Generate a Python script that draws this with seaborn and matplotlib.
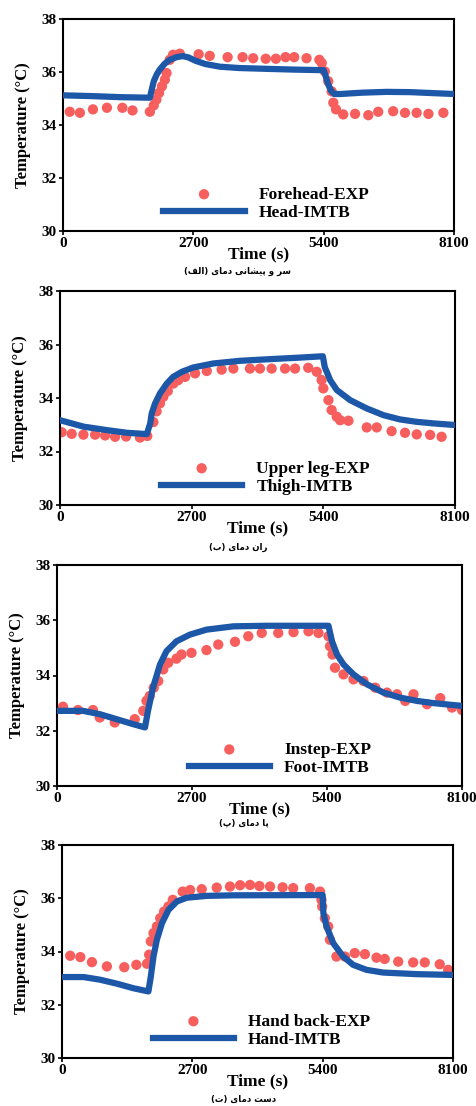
import matplotlib
matplotlib.use('Agg')
import matplotlib.pyplot as plt
import seaborn as sns

# ---- data ----
xticks = [0, 2700, 5400, 8100]
yticks = [30, 32, 34, 36, 38]

# (a) forehead / head
head_exp_t = [140, 350, 620, 910, 1230, 1440, 1800, 1880, 1935, 1990, 2050, 2110, 2145, 2210, 2280,
              2420, 2810, 3040, 3410, 3720, 3940, 4200, 4410, 4610, 4790, 5045, 5310, 5360, 5425,
              5495, 5565, 5600, 5655, 5805, 6050, 6325, 6530, 6840, 7085, 7325, 7570, 7880]
head_exp_T = [34.50, 34.46, 34.59, 34.65, 34.65, 34.55, 34.50, 34.74, 34.96, 35.21, 35.46, 35.71,
              35.96, 36.46, 36.65, 36.69, 36.67, 36.61, 36.56, 36.56, 36.52, 36.50, 36.50, 36.56,
              36.56, 36.52, 36.46, 36.34, 36.02, 35.65, 35.27, 34.84, 34.59, 34.40, 34.42, 34.37,
              34.50, 34.52, 34.46, 34.46, 34.42, 34.46]
head_mod_t = [0, 600, 1200, 1800, 1840, 1880, 1940, 2000, 2100, 2200, 2350, 2480, 2600, 2750, 2950,
              3250, 3650, 4200, 4800, 5350, 5400, 5440, 5490, 5550, 5620, 5750, 6200, 6700, 7200,
              7700, 8100]
head_mod_T = [35.12, 35.09, 35.05, 35.03, 35.35, 35.65, 35.90, 36.08, 36.30, 36.45, 36.56, 36.60,
              36.55, 36.42, 36.30, 36.20, 36.15, 36.12, 36.09, 36.07, 36.07, 35.85, 35.55, 35.30,
              35.17, 35.17, 35.22, 35.25, 35.24, 35.20, 35.17]

# (b) upper leg / thigh
thigh_exp_t = [35, 240, 480, 720, 925, 1130, 1355, 1640, 1790, 1915, 1980, 2050, 2120, 2210, 2325,
               2425, 2565, 2770, 3010, 3315, 3555, 3895, 4100, 4340, 4615, 4820, 5090, 5265, 5365,
               5400, 5505, 5570, 5675, 5745, 5915, 6290, 6495, 6800, 7075, 7315, 7590, 7825]
thigh_exp_T = [32.72, 32.66, 32.63, 32.63, 32.60, 32.55, 32.56, 32.52, 32.58, 33.10, 33.50, 33.80,
               34.05, 34.26, 34.54, 34.67, 34.79, 34.92, 35.01, 35.06, 35.10, 35.10, 35.10, 35.10,
               35.10, 35.10, 35.13, 34.98, 34.67, 34.36, 33.92, 33.55, 33.30, 33.17, 33.15, 32.90,
               32.90, 32.76, 32.70, 32.64, 32.62, 32.55]
thigh_mod_t = [0, 480, 960, 1370, 1780, 1850, 1880, 1950, 2050, 2190, 2320, 2500, 2730, 3140, 3690,
               4380, 4920, 5390, 5430, 5500, 5540, 5675, 5950, 6290, 6630, 6970, 7310, 7660, 8100]
thigh_mod_T = [33.17, 32.93, 32.80, 32.70, 32.65, 33.05, 33.42, 33.80, 34.17, 34.54, 34.79, 34.98,
               35.14, 35.29, 35.39, 35.46, 35.51, 35.56, 35.15, 34.85, 34.67, 34.30, 33.92, 33.61,
               33.36, 33.20, 33.11, 33.05, 32.99]

# (c) instep / foot
foot_exp_t = [120, 420, 720, 855, 1155, 1555, 1725, 1790, 1855, 1935, 2025, 2125, 2225, 2390, 2490,
              2690, 2990, 3225, 3560, 3825, 4095, 4425, 4730, 5030, 5230, 5430, 5460, 5510, 5560,
              5730, 5930, 6130, 6365, 6600, 6800, 6965, 7130, 7400, 7665, 7900, 8100]
foot_exp_T = [32.87, 32.75, 32.75, 32.48, 32.30, 32.42, 32.72, 33.08, 33.26, 33.56, 33.80, 34.22,
              34.46, 34.61, 34.76, 34.82, 34.92, 35.12, 35.22, 35.42, 35.54, 35.54, 35.57, 35.60,
              35.54, 35.42, 35.06, 34.76, 34.28, 34.04, 33.86, 33.80, 33.56, 33.38, 33.32, 33.08,
              33.32, 32.96, 33.18, 32.84, 32.75]
foot_mod_t = [0, 520, 855, 1190, 1520, 1760, 1820, 1920, 2060, 2190, 2390, 2660, 2990, 3530, 4190,
              5430, 5500, 5600, 5730, 5930, 6200, 6530, 6860, 7200, 7530, 8100]
foot_mod_T = [32.72, 32.72, 32.60, 32.42, 32.24, 32.12, 32.72, 33.56, 34.40, 34.88, 35.24, 35.48,
              35.66, 35.78, 35.80, 35.80, 35.24, 34.76, 34.40, 34.04, 33.68, 33.38, 33.20, 33.08,
              33.00, 32.90]

# (d) hand back / hand
hand_exp_t = [170, 380, 620, 930, 1290, 1540, 1760, 1805, 1840, 1895, 1965, 2035, 2115, 2205, 2295,
              2500, 2655, 2895, 3205, 3480, 3690, 3895, 4090, 4310, 4570, 4790, 5135, 5345, 5375,
              5390, 5445, 5515, 5550, 5685, 5860, 6065, 6275, 6515, 6685, 6965, 7275, 7515, 7825,
              8000]
hand_exp_T = [33.84, 33.79, 33.60, 33.44, 33.41, 33.50, 33.54, 33.88, 34.38, 34.69, 34.94, 35.25,
              35.50, 35.69, 35.94, 36.25, 36.31, 36.34, 36.40, 36.44, 36.49, 36.50, 36.46, 36.44,
              36.41, 36.38, 36.38, 36.25, 35.94, 35.69, 35.25, 34.94, 34.44, 33.81, 33.81, 33.94,
              33.90, 33.77, 33.72, 33.62, 33.59, 33.59, 33.52, 33.31]
hand_mod_t = [0, 450, 790, 1140, 1480, 1790, 1840, 1895, 1965, 2070, 2205, 2380, 2585, 3000, 3550,
              5400, 5415, 5480, 5620, 5825, 6030, 6310, 6650, 7340, 8100]
hand_mod_T = [33.04, 33.04, 32.94, 32.79, 32.62, 32.50, 33.06, 33.81, 34.44, 35.06, 35.56, 35.88,
              36.02, 36.09, 36.11, 36.12, 35.44, 34.94, 34.31, 33.81, 33.50, 33.31, 33.21, 33.15,
              33.12]

exp_labels = ['Forehead-EXP', 'Upper leg-EXP', 'Instep-EXP', 'Hand back-EXP']
mod_labels = ['Head-IMTB', 'Thigh-IMTB', 'Foot-IMTB', 'Hand-IMTB']
captions = ['(الف) دمای پیشانی و سر', '(ب) دمای ران', '(پ) دمای پا', '(ت) دمای دست']

panels = [
    (head_exp_t, head_exp_T, head_mod_t, head_mod_T),
    (thigh_exp_t, thigh_exp_T, thigh_mod_t, thigh_mod_T),
    (foot_exp_t, foot_exp_T, foot_mod_t, foot_mod_T),
    (hand_exp_t, hand_exp_T, hand_mod_t, hand_mod_T),
]

# ---- minimal Persian shaping (matplotlib does no contextual shaping) ----
FORMS = {  # isolated, final, initial, medial
    'ا': ('\uFE8D', '\uFE8E', None, None),
    'ب': ('\uFE8F', '\uFE90', '\uFE91', '\uFE92'),
    'پ': ('\uFB56', '\uFB57', '\uFB58', '\uFB59'),
    'ت': ('\uFE95', '\uFE96', '\uFE97', '\uFE98'),
    'د': ('\uFEA9', '\uFEAA', None, None),
    'ر': ('\uFEAD', '\uFEAE', None, None),
    'س': ('\uFEB1', '\uFEB2', '\uFEB3', '\uFEB4'),
    'ش': ('\uFEB5', '\uFEB6', '\uFEB7', '\uFEB8'),
    'ف': ('\uFED1', '\uFED2', '\uFED3', '\uFED4'),
    'ل': ('\uFEDD', '\uFEDE', '\uFEDF', '\uFEE0'),
    'م': ('\uFEE1', '\uFEE2', '\uFEE3', '\uFEE4'),
    'ن': ('\uFEE5', '\uFEE6', '\uFEE7', '\uFEE8'),
    'و': ('\uFEED', '\uFEEE', None, None),
    'ی': ('\uFBFC', '\uFBFD', '\uFBFE', '\uFBFF'),
}


def shape_word(w):
    out = []
    for i, c in enumerate(w):
        if c not in FORMS:
            out.append(c)
            continue
        iso, fin, ini, med = FORMS[c]
        prev = w[i - 1] if i > 0 else None
        nxt = w[i + 1] if i + 1 < len(w) else None
        jp = prev in FORMS and FORMS[prev][2] is not None
        jn = nxt in FORMS and ini is not None
        if jp and jn:
            out.append(med)
        elif jp:
            out.append(fin)
        elif jn:
            out.append(ini)
        else:
            out.append(iso)
    return ''.join(reversed(out))


def shape_caption(s):
    # words stay in the order the reference shows them, letters inside each word run right-to-left
    words = []
    for tok in s.split(' '):
        if tok.startswith('(') and tok.endswith(')'):
            words.append('(' + shape_word(tok[1:-1]) + ')')
        else:
            words.append(shape_word(tok))
    return ' '.join(words)


plt.rcParams['font.family'] = ['Liberation Serif', 'DejaVu Serif']
plt.rcParams['font.weight'] = 'bold'
plt.rcParams['axes.labelweight'] = 'bold'

red = '#f65f5e'
blue = '#1d57a7'

W, H = 476, 1106
fig = plt.figure(figsize=(W / 100, H / 100), dpi=100)

# axes boxes in pixels: left, top, right, bottom
boxes = [(63, 19, 454, 231), (60, 291, 455, 505), (57, 565, 462, 786), (62, 845, 453, 1058)]
leg_x = [0.52, 0.52, 0.55, 0.51]
cap_pos = [(238, 271), (238, 547), (244, 823), (244, 1099)]

for k, (et, eT, mt, mT) in enumerate(panels):
    l, t, r, b = boxes[k]
    ax = fig.add_axes([l / W, 1 - b / H, (r - l) / W, (b - t) / H])
    sns.scatterplot(x=et, y=eT, ax=ax, color=red, s=55, edgecolor='none', label=exp_labels[k], zorder=2)
    sns.lineplot(x=mt, y=mT, ax=ax, color=blue, linewidth=4.5, label=mod_labels[k], zorder=3)
    ax.set_xlim(0, 8100)
    ax.set_ylim(30, 38)
    ax.set_xticks(xticks)
    ax.set_yticks(yticks)
    ax.tick_params(direction='out', length=3, width=1.2, pad=1.5, labelsize=11)
    for sp in ax.spines.values():
        sp.set_linewidth(1.5)
    ax.set_xlabel('Time (s)', fontsize=12.5, labelpad=-2.5)
    ax.set_ylabel('Temperature (°C)', fontsize=12, labelpad=8)
    ax.legend(loc='lower center', bbox_to_anchor=(leg_x[k], -0.025), frameon=False,
              fontsize=12.5, handlelength=4.7, handletextpad=0.8, labelspacing=0.1,
              scatterpoints=1)
    cx, cy = cap_pos[k]
    fig.text(cx / W, 1 - cy / H, shape_caption(captions[k]), ha='center', va='center',
             fontsize=6.2, fontweight='bold', family=['DejaVu Sans'])

fig.savefig('out.png', dpi=100)
